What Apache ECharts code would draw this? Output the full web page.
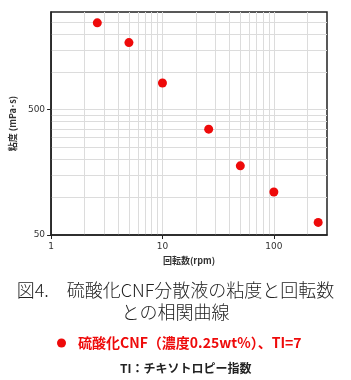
<!DOCTYPE html>
<html>
<head>
<meta charset="utf-8">
<script src="https://cdn.jsdelivr.net/npm/echarts@6/dist/echarts.min.js"></script>
<style>
  html, body { margin: 0; padding: 0; background: #fff; }
  #chart { width: 351px; height: 380px; }
</style>
</head>
<body>
<div id="chart"></div>
<script>
// 回転数 (rpm) と 粘度 (mPa･s)
const speeds = [2.6, 5, 10, 26, 50, 100, 250];
const viscosity = [2460, 1710, 814, 349, 178, 110, 63];

// 軸の目盛り
const xLabelValues = [1, 10, 100];
const yLabelValues = [50, 500];
const xGridValues = [2, 3, 4, 5, 6, 7, 8, 9, 10, 20, 30, 40, 50, 60, 70, 80, 90, 100, 200];
const yGridValues = [100, 150, 200, 250, 300, 350, 400, 450, 500, 1000, 1500, 2000, 2500];

const seriesName = "硫酸化CNF（濃度0.25wt%）、TI=7";
const red = "#ee0a0a";
const font = "'Noto Sans CJK JP', 'DejaVu Sans', sans-serif";

let chart = echarts.init(document.getElementById("chart"));

let option = {
  animation: false,
  backgroundColor: "#fff",
  grid: {
    left: 45,
    top: 12,
    right: 24,
    bottom: 145,
    show: true,
    borderColor: "#222",
    borderWidth: 1.5,
  },
  title: [
    {
      text: "図4.　硫酸化CNF分散液の粘度と回転数\nとの相関曲線",
      left: "center",
      top: 274,
      textStyle: {
        fontFamily: font,
        fontWeight: 300,
        fontSize: 18,
        lineHeight: 22,
        color: "#222",
      },
    },
    {
      text: "TI：チキソトロピー指数",
      left: 115,
      top: 357,
      textStyle: {
        fontFamily: font,
        fontWeight: "bold",
        fontSize: 12,
        color: "#222",
      },
    },
  ],
  legend: {
    left: 52,
    top: 331,
    icon: "circle",
    itemWidth: 9,
    itemHeight: 9,
    data: [seriesName],
    textStyle: {
      fontFamily: font,
      fontWeight: "bold",
      fontSize: 14,
      color: red,
      padding: [0, 0, 0, 7],
    },
  },
  xAxis: [
    {
      // 補助目盛線
      type: "log",
      logBase: 10,
      min: 1,
      max: 300,
      axisLine: { show: false },
      axisTick: { show: false, customValues: xGridValues },
      axisLabel: { show: false },
      splitLine: { show: true, lineStyle: { color: "#dcdcdc", width: 1 } },
    },
    {
      type: "log",
      logBase: 10,
      min: 1,
      max: 300,
      position: "bottom",
      name: "回転数(rpm)",
      nameLocation: "middle",
      nameGap: 20,
      nameTextStyle: {
        fontFamily: font,
        fontWeight: "bold",
        fontSize: 9,
        color: "#333",
      },
      axisLine: { show: true, lineStyle: { color: "#222", width: 1.5 } },
      axisTick: { show: true, length: 4, customValues: xLabelValues, lineStyle: { color: "#222" } },
      axisLabel: {
        customValues: xLabelValues,
        fontFamily: "DejaVu Sans",
        fontSize: 9,
        color: "#333",
        margin: 7,
      },
      splitLine: { show: false },
    },
  ],
  yAxis: [
    {
      type: "log",
      logBase: 10,
      min: 50,
      max: 3000,
      axisLine: { show: false },
      axisTick: { show: false, customValues: yGridValues },
      axisLabel: { show: false },
      splitLine: { show: true, lineStyle: { color: "#dcdcdc", width: 1 } },
    },
    {
      type: "log",
      logBase: 10,
      min: 50,
      max: 3000,
      position: "left",
      name: "粘度 (mPa･s)",
      nameLocation: "middle",
      nameGap: 28,
      nameTextStyle: {
        fontFamily: font,
        fontWeight: "bold",
        fontSize: 9,
        color: "#333",
      },
      axisLine: { show: true, lineStyle: { color: "#222", width: 1.5 } },
      axisTick: { show: true, length: 4, customValues: yLabelValues, lineStyle: { color: "#222" } },
      axisLabel: {
        customValues: yLabelValues,
        fontFamily: "DejaVu Sans",
        fontSize: 9,
        color: "#333",
        margin: 6,
      },
      splitLine: { show: false },
    },
  ],
  series: [
    {
      name: seriesName,
      type: "scatter",
      xAxisIndex: 0,
      yAxisIndex: 0,
      symbol: "circle",
      symbolSize: 9,
      itemStyle: { color: red, opacity: 1 },
      data: speeds.map((s, i) => [s, viscosity[i]]),
    },
  ],
};

chart.setOption(option);
</script>
</body>
</html>
